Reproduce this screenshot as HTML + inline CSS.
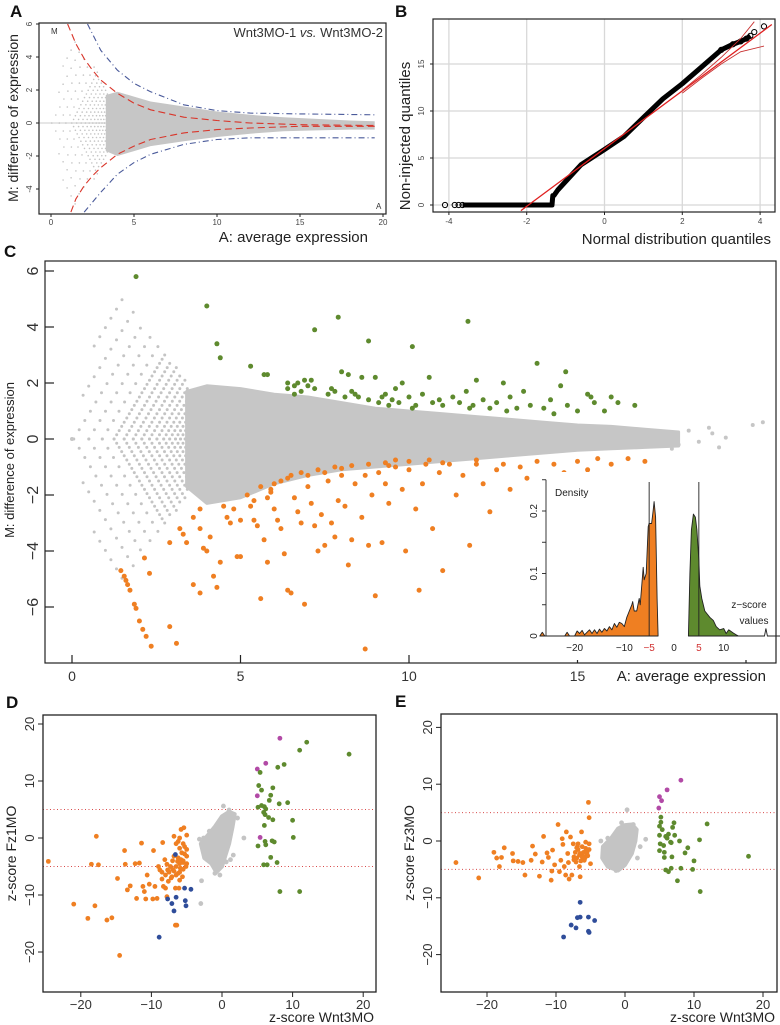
<!DOCTYPE html>
<html><head><meta charset="utf-8"><style>
html,body{margin:0;padding:0;background:#fff;}
svg{display:block;font-family:"Liberation Sans",Arial,sans-serif;}
</style></head><body>
<svg id="fig" width="780" height="1025" viewBox="0 0 780 1025" xmlns="http://www.w3.org/2000/svg"></svg>
<script>
// ===== Panel A data =====
const aCloudA = [3.3,4,5,6,8,10,12,14,16,18,19.5];
const aCloudUp = [1.7,1.9,1.6,1.3,1.0,0.7,0.5,0.35,0.25,0.15,0.1];
const aCloudLo = [-1.7,-2.0,-1.7,-1.4,-1.1,-0.85,-0.65,-0.5,-0.45,-0.4,-0.4];
const aRedUpA = [1,1.5,2,2.5,3,4,5,6,8,10,12,15,19.5];
const aRedUpM = [6,4.8,3.9,3.2,2.6,1.8,1.2,0.8,0.35,0.15,0.0,-0.1,-0.15];
const aRedLoA = [1.2,1.5,2,2.5,3,4,5,6,8,10,12,15,19.5];
const aRedLoM = [-5.4,-4.6,-3.8,-3.2,-2.7,-1.9,-1.4,-1.0,-0.6,-0.4,-0.3,-0.2,-0.2];
const aBlueUpA = [2.2,3,4,5,6,8,10,12,15,19.5];
const aBlueUpM = [6,4.4,3.2,2.4,1.9,1.1,0.75,0.6,0.55,0.5];
const aBlueLoA = [2,3,4,5,6,8,10,12,15,19.5];
const aBlueLoM = [-5.4,-4.2,-3.1,-2.4,-1.9,-1.3,-1.0,-0.9,-0.9,-0.9];
const aXTicks = [0,5,10,15,20];
const aYTicks = [-4,-2,0,2,4,6];
// low-count stripe offsets (A where each stripe crosses M=0)
const stripeOffsets = [-1.0,-0.45,0.05,0.5,0.9,1.25,1.55,1.82,2.07,2.3,2.52,2.72,2.9,3.07,3.22,3.36];
// ===== Panel B data =====
const bQX = [-4.1,-3.85,-3.75,-3.65,-3.5,-3,-2.5,-2,-1.6,-1.35,-1.33,-1.3,-1.2,-1.0,-0.6,0,0.5,1,1.5,2,2.5,3,3.3,3.5,3.65,3.75,3.85,4.1];
const bQY = [0,0,0,0,0,0,0,0,0,0,1,1,1.6,2.5,4.3,5.9,7.3,9.3,11.3,12.9,14.7,16.5,17.1,17.4,17.7,18,18.4,19];
const bRefX = [-2.15,4.3];
const bRefY = [-0.6,19.2];
const bEnvUpX = [2,2.5,3,3.5,3.85];
const bEnvUpY = [12.2,13.9,15.7,17.7,19.5];
const bEnvLoX = [2,2.5,3,3.5,4.1];
const bEnvLoY = [11.9,13.5,15.0,16.3,16.9];
const bXTicks = [-4,-2,0,2,4];
const bYTicks = [0,5,10,15];
// ===== Panel C data =====
const cCloudA = [3.4,4,5,6,7,8,9,10,11,12,13,14,15,16,17,18];
const cCloudUp = [1.7,1.9,1.8,1.6,1.5,1.3,1.1,1.0,0.9,0.8,0.7,0.6,0.5,0.45,0.35,0.25];
const cCloudLo = [-1.7,-2.3,-2.1,-1.6,-1.3,-1.1,-1.0,-0.9,-0.8,-0.7,-0.6,-0.5,-0.4,-0.35,-0.3,-0.25];
const cGrayExtraA = [0,17.5,18,18.3,18.6,19,19.2,19.4,20.2,20.5,17.8,18.9];
const cGrayExtraM = [0,0.1,-0.2,0.3,-0.1,0.2,-0.3,0.05,0.5,0.6,-0.35,0.4];
const cOrangeA = [1.45,1.55,1.6,1.65,1.72,1.85,1.9,2.0,2.1,2.2,2.35,2.15,2.3,2.9,3.1,2.9,3.2,3.3,3.4,3.6,3.6,3.8,3.8,3.8,3.9,4.0,4.1,4.2,4.3,4.4,4.5,4.6,4.7,4.8,4.9,5.0,5.0,5.2,5.3,5.4,5.5,5.6,5.7,5.8,5.9,6.0,6.1,6.2,6.3,6.4,6.5,6.6,6.7,6.8,6.9,7.0,7.1,7.2,7.3,7.4,7.5,7.6,7.7,7.8,7.9,8.0,8.1,8.2,8.3,8.4,8.6,8.7,8.8,8.9,9.0,9.1,9.2,9.3,9.4,9.6,9.8,9.9,10.0,10.2,10.3,10.4,10.5,10.7,10.9,11.0,11.2,11.4,11.6,11.8,12.0,12.2,12.4,12.6,12.8,13.0,13.3,13.5,13.8,14.0,14.3,14.6,15.0,15.3,15.6,16.0,16.5,17.0,8.7,9.4,6.2,6.8,7.3,7.8,8.3,8.8,9.3,6.5,7.5,8.0,5.6,5.8,6.0,10.0,11.0,12.0,9.6,10.6,5.4,5.9,6.4,7.0];
const cOrangeM = [-4.7,-4.9,-5.05,-5.2,-5.4,-5.9,-6.05,-6.5,-6.8,-7.05,-7.4,-4.25,-4.8,-6.7,-7.3,-3.7,-3.2,-3.4,-3.7,-2.8,-5.2,-5.5,-2.5,-3.2,-3.9,-4.0,-3.5,-4.9,-5.3,-4.4,-2.4,-2.8,-3.0,-2.5,-4.2,-2.9,-4.2,-2.0,-2.4,-2.9,-3.1,-5.7,-3.6,-4.4,-1.9,-2.5,-2.9,-3.2,-4.1,-5.4,-5.5,-2.1,-2.6,-3.0,-5.9,-1.7,-2.3,-3.1,-4.0,-2.7,-3.8,-1.5,-3.0,-3.5,-2.2,-1.3,-2.4,-4.5,-3.6,-1.6,-2.8,-1.3,-3.8,-2.0,-5.6,-1.2,-3.7,-1.6,-2.3,-1.0,-1.8,-4.0,-1.1,-2.5,-5.4,-1.6,-0.9,-3.2,-1.2,-4.7,-0.9,-2.0,-1.3,-3.8,-0.9,-1.6,-2.6,-1.1,-0.9,-1.8,-1.0,-1.4,-0.8,-1.9,-0.9,-1.2,-0.8,-1.1,-0.7,-0.9,-0.7,-0.8,-7.5,-0.95,-1.5,-1.2,-1.1,-1.0,-0.95,-0.9,-0.85,-1.3,-1.2,-1.05,-1.7,-2.1,-1.6,-0.8,-0.85,-0.75,-0.75,-0.75,-2.2,-1.8,-1.4,-1.3];
const cGreenA = [1.9,4.0,4.3,4.4,5.3,5.7,5.8,6.4,6.4,6.6,6.7,6.8,6.9,7.0,7.1,7.2,7.6,7.7,7.8,7.9,8.0,8.1,8.2,8.3,8.4,8.5,8.6,8.8,8.8,9.0,9.1,9.2,9.3,9.5,9.6,9.7,9.8,10.0,10.1,10.2,10.4,10.6,10.7,10.9,11.0,11.3,11.5,11.7,11.75,11.9,12.0,12.2,12.4,12.6,12.8,13.0,13.2,13.4,13.8,14.0,14.2,14.5,14.65,14.7,15.0,15.3,15.4,15.5,15.8,16.0,16.2,16.7,6.6,7.2,9.4,10.1,11.8,12.9,14.3,13.6];
const cGreenM = [5.8,4.75,3.4,2.9,2.6,2.3,2.3,2.0,1.8,1.9,2.0,1.7,2.1,1.9,2.1,3.9,1.6,1.8,1.7,4.35,2.4,1.5,2.3,1.7,1.6,1.5,2.2,1.4,3.5,2.2,1.3,1.5,1.6,1.4,1.8,1.3,2.0,1.5,3.3,1.2,1.6,2.2,1.3,1.4,1.2,1.5,1.3,1.7,4.2,1.2,2.1,1.4,1.1,1.3,2.0,1.5,1.1,1.7,2.7,1.1,1.4,1.9,2.4,1.2,1.0,1.6,1.5,1.3,1.0,1.5,1.3,1.2,1.6,1.8,1.2,1.1,1.1,1.0,0.9,1.2];
const cXTicks = [0,5,10,15,20];
const cXLabels = ["0","5","10","15",""];
const cYTicks = [-6,-4,-2,0,2,4,6];
// ===== Inset density data =====
const dOrangeZ = [-27,-26.5,-26,-25.5,-22,-21.5,-21,-20,-19.5,-19,-18.5,-18,-17,-16.5,-16,-15.5,-15,-14.5,-14,-13.5,-13,-12.5,-12,-11.5,-11,-10.5,-10,-9.5,-9,-8.5,-8.3,-8,-7.5,-7,-6.8,-6.5,-6.2,-6,-5.6,-5.2,-5,-4.5,-4.2,-4.0,-3.7,-3.4,-3.2];
const dOrangeD = [0,0.006,0,0,0,0.006,0,0,0.008,0.004,0.009,0.002,0.01,0.004,0.01,0.004,0.011,0.006,0.012,0.008,0.015,0.01,0.02,0.014,0.022,0.02,0.015,0.03,0.04,0.05,0.055,0.04,0.04,0.06,0.05,0.08,0.11,0.09,0.1,0.175,0.18,0.18,0.2,0.215,0.19,0.06,0];
const dGreenZ = [2.9,3.2,3.5,3.9,4.3,4.6,5.0,5.2,5.6,6.2,6.7,7.2,7.9,8.5,9.2,10,10.5,11,11.9,12.5,13];
const dGreenD = [0,0.1,0.17,0.195,0.19,0.17,0.12,0.08,0.06,0.04,0.035,0.03,0.025,0.015,0.01,0.012,0.004,0.01,0.005,0.002,0];
const dTailZ = [13,18.2,18.5,18.8,19.1,27];
const dTailD = [0,0,0.012,0,0,0];
const dXTicks = [-20,-10,-5,0,5,10];
const dYTicks = [0,0.1,0.2];
// ===== Panel D data =====
const dzOrangeX = [-24.6,-21,-19,-18.5,-18,-17.8,-17.5,-16.3,-15.6,-14.8,-14.5,-13.8,-13.7,-13,-13.4,-12.3,-12.1,-11.7,-11.4,-11.2,-11,-10.8,-10.6,-10.3,-9.7,-9.5,-9.8,-9.2,-8.8,-8.5,-8.4,-8.3,-8.1,-8.0,-7.7,-7.6,-7.3,-7.1,-6.8,-6.8,-6.6,-6.4,-6.3,-6.2,-6.2,-6.0,-6.0,-5.9,-5.8,-5.7,-5.6,-5.5,-5.4,-5.3,-5.1,-5.0,-6.6,-6.1,-7.8,-7.5,-7,-6.5,-6,-5.5,-7,-6.5,-6,-5.5,-5,-5,-5.5,-6,-6.5,-5,-7.2,-8.5,-9,-7.8,-8,-6.8,-6.2,-5.8,-5.3];
const dzOrangeY = [-4.1,-11.6,-14.1,-4.6,-11.9,0.3,-4.7,-14.4,-14.0,-7.1,-20.6,-2.2,-4.6,-8.4,-9.1,-4.5,-10.6,-4.4,-0.9,-8.5,-9.4,-10.7,-6.5,-8.1,-2.2,-8.5,-10.7,-10.6,-5.6,-7.2,-0.8,-8.5,-3.8,-8.8,-5.6,-7.6,-5.0,-6.8,0.3,-3.2,-15.3,-15.3,-4.1,-0.6,-6.2,-7.4,-1.8,-5.3,1.5,-2.6,-6.8,-4.3,1.8,-1.5,-5.0,-3.2,-8.8,-8.8,-10.3,-6,-5.5,-5,-4.5,-4,-4,-6.5,-6,-5.5,-4.5,-2,-1,0,-1,0.5,-7,-6,-5,-4.6,-6.5,-5.8,-3.5,-3.8,-2.8];
const dzBlueX = [-6.6,-7.7,-7.1,-6.8,-6.5,-5.3,-5.2,-5.1,-4.4,-8.9];
const dzBlueY = [-2.9,-10.7,-11.5,-12.8,-10.4,-8.8,-11.0,-11.9,-9.0,-17.4];
const dzMagX = [8.2,6.2,5.0,5.0,5.4];
const dzMagY = [17.5,13.1,12.1,7.4,0.1];
const dzGreenX = [18.0,12,11,8.8,7.9,5.4,5.2,5.6,7.2,6.9,6.7,8.1,9.3,5.1,5.6,6.0,6.2,5.9,6.1,6.6,7.2,10,6.0,10.1,5.1,6.1,6.2,7.1,7.4,6.9,5.9,6.4,7.8,8.2,11];
const dzGreenY = [14.7,16.8,15.4,12.9,12.4,11.5,9.2,8.4,8.8,7.5,6.6,6.0,6.2,5.4,5.7,5.5,5.1,4.5,4.1,3.6,3.2,3.1,2.2,0.1,-1.4,-0.6,-1.2,-0.5,-0.7,-3.4,-4.7,-4.7,-4.3,-9.4,-9.4];
const dzGrayPolyX = [-3,-2,-1,0,1,1.8,1.5,1,0.5,0,-0.8,-1.5,-2.5];
const dzGrayPolyY = [-1,0.5,2,3.8,4.6,4.2,2,-1,-3,-5,-6,-4.5,-3.5];
const dzGrayX = [3.1,-2.9,-3,-3.2,0.2,1.0,-1.0,1.6,-2.2,-2.6,-1.8,2.2,1.2,-0.3,0.6];
const dzGrayY = [0,-7.5,-11.5,-0.2,5.6,4.9,-6.2,-3,-2.5,0,1.2,3.5,-3.8,-6.5,-4.2];
// ===== Panel E data =====
const eOrangeX = [-24.5,-21.2,-19.0,-18.6,-18.2,-17.9,-17.5,-16.3,-16.2,-15.5,-14.8,-14.5,-13.6,-13.4,-13,-12.4,-12,-11.8,-11.3,-11.1,-10.7,-10.6,-10.5,-10.2,-9.7,-9.5,-9.3,-9.1,-9.0,-8.8,-8.6,-8.5,-8.3,-8.2,-8.1,-7.9,-7.7,-7.5,-7.4,-7.1,-6.9,-6.6,-6.5,-6.3,-6.2,-5.9,-5.7,-5.3,-5.2,-5.0,-5.2,-7.2,-7,-6.8,-6.6,-6.4,-6.2,-6,-5.8,-5.6,-5.4,-7,-6.5,-6,-5.5,-5.2,-6.8,-6.2,-5.7,-7.4,-6.0,-5.5];
const eOrangeY = [-3.8,-6.5,-2.0,-3.0,-4.5,-2.9,-1.2,-2.2,-3.5,-3.6,-3.8,-6.0,-3.4,-0.9,-2.3,-6.2,-3.7,0.8,-2.1,-2.9,-6.9,-5.3,-1.6,-4.2,2.9,-5.4,-3.4,0.4,-0.6,-4.5,-6.0,1.6,-2.2,-3.8,-6.7,0.7,-6.0,-0.5,-2.8,-3.7,-1.0,-4.5,-6.3,1.6,-2.2,-3.4,-1.3,6.8,4.1,-4.0,-0.5,-2,-3,-1.5,-2.5,-3.5,-1,-2,-3,-1.8,-2.6,-1.2,-2.2,-3.2,-2.4,-1.5,-0.5,-2.8,-0.2,-3.3,-2.8,-2.0];
const eBlueX = [-6.5,-6.9,-6.5,-7.8,-7.1,-5.3,-4.4,-5.3,-5.2,-8.9];
const eBlueY = [-10.8,-13.5,-13.4,-14.8,-15.3,-13.4,-14.0,-15.9,-16.1,-16.9];
const eMagX = [8.1,6.1,5.0,5.3,4.9];
const eMagY = [10.7,9.0,7.8,7.1,5.8];
const eGreenX = [17.9,11.9,10.8,10.9,10,9.8,9.1,8.1,7.9,7.6,8.7,7.1,6.9,7.2,6.7,6.3,6.1,5.9,6.8,6.7,6.3,5.9,5.7,5.4,5.2,5.2,5.0,5.0,5.1,5.0,5.7,5.6,6.6];
const eGreenY = [-2.7,3.0,0.2,-8.9,-3.5,-5.0,-1.2,-4.8,0,-7.0,-2.1,3.2,2.4,1.0,-0.3,1.2,0.5,0.8,-2.8,-4.8,-5.4,-5.1,-2.0,2.0,4.2,3.3,2.6,1.0,-0.5,-1.7,-2.9,-0.8,-0.2];
const eGrayPolyX = [-3.2,-2,-1,0,1,1.7,1.5,1,0,-1,-2.5,-3.3];
const eGrayPolyY = [-1,0.5,2.2,2.8,2.9,2,0,-2.2,-4.2,-5.2,-4.5,-3];
const eGrayX = [0.3,3,-3.5,1.2,-1.3,-2.5,2.2,-0.5,1.8];
const eGrayY = [5.5,0.3,0,2.9,-5.2,0.5,-1,3.2,-3];
const zXTicks = [-20,-10,0,10,20];
const zYTicks = [-20,-10,0,10,20];

// ===== helpers =====
const NS = 'http://www.w3.org/2000/svg';
const svg = document.getElementById('fig');
function mk(tag, attrs, parent){
  const e = document.createElementNS(NS, tag);
  for (const k in attrs) e.setAttribute(k, attrs[k]);
  (parent||svg).appendChild(e);
  return e;
}
function txt(x,y,s,size,opts,parent){
  const o = Object.assign({x:x,y:y,'font-size':size,fill:'#222'}, opts||{});
  const t = mk('text', o, parent);
  t.textContent = s;
  return t;
}
function group(name){
  const g = mk('g', {});
  
  
  return g;
}
function clip(id,x,y,w,h){
  const c = mk('clipPath',{id:id});
  mk('rect',{x:x,y:y,width:w,height:h},c);
}
function poly(xs, ys, sx, sy){ return xs.map((v,i)=>sx(v).toFixed(1)+','+sy(ys[i]).toFixed(1)).join(' '); }
// low-count stripes: M = ±2(A - c), inside diamond region
function inRegion(a, m){
  const am = Math.abs(m);
  return a <= 3.55 && am <= 5*a + 0.05 && am <= 5.2 - 1.78*(a-1.63) && am >= 0;
}
function drawStripes(parent, sx, sy, r, step){
  stripeOffsets.forEach(c=>{
    [1,-1].forEach(s=>{
      // outer stripes are sparser than inner ones
      const st = c < 1.0 ? step*2.2 : step;
      for (let a = Math.max(c,0); a <= 3.6; a += st) {
        const m = s*2*(a - c);
        if (!inRegion(a, m)) continue;
        const d = mk('circle',{cx:sx(a).toFixed(1),cy:sy(m).toFixed(1),r:r,fill:'#c4c4c4'},parent);
        
        
      }
    });
  });
}

// ===== Panel A =====
{
  const sx = a=>51+a*16.6, sy = m=>123-m*16.5;
  clip('clipA',39,23,347,191);
  const g = group('panel-a');
  const pg = mk('g',{'clip-path':'url(#clipA)'},g);
  mk('line',{x1:sx(-1),y1:sy(0),x2:sx(3.6),y2:sy(0),stroke:'#ccc','stroke-width':1},pg);
  drawStripes(pg, sx, sy, 0.8, 0.11);
  const cl = mk('polygon',{points:poly(aCloudA.concat(aCloudA.slice().reverse()), aCloudUp.concat(aCloudLo.slice().reverse()), sx, sy), fill:'#c6c6c6'},pg);
  
  
  const curves = [[aRedUpA,aRedUpM,'#d9352a','7 4'],[aRedLoA,aRedLoM,'#d9352a','7 4'],[aBlueUpA,aBlueUpM,'#4a5a9a','6 3 1 3'],[aBlueLoA,aBlueLoM,'#4a5a9a','6 3 1 3']];
  curves.forEach(c=>{
    const p = mk('polyline',{points:poly(c[0],c[1],sx,sy),fill:'none',stroke:c[2],'stroke-width':1.1,'stroke-dasharray':c[3]},pg);
    
    
  });
  mk('rect',{x:39,y:23,width:347,height:191,fill:'none',stroke:'#222','stroke-width':1.2},g);
  aXTicks.forEach(v=>{ mk('line',{x1:sx(v),y1:214,x2:sx(v),y2:217,stroke:'#222'},g); txt(sx(v),225,String(v),8,{'text-anchor':'middle',fill:'#444'},g); });
  aYTicks.forEach(v=>{ mk('line',{x1:36,y1:sy(v),x2:39,y2:sy(v),stroke:'#222'},g); txt(32,sy(v),String(v),8,{'text-anchor':'middle',fill:'#444',transform:`rotate(-90 32 ${sy(v)})`},g); });
  txt(10,17,'A',17,{'font-weight':'bold',fill:'#111'},g);
  const t = txt(383,37,'',13,{'text-anchor':'end',fill:'#333'},g);
  t.innerHTML = 'Wnt3MO-1 <tspan font-style="italic">vs.</tspan> Wnt3MO-2';
  
  
  txt(51,34,'M',8,{fill:'#333'},g);
  txt(376,209,'A',8,{fill:'#333'},g);
  const yl = txt(18,118,'M: difference of expression',14,{'text-anchor':'middle',fill:'#222',transform:'rotate(-90 18 118)'},g);
  
  
  const xl = txt(368,242,'A: average expression',15,{'text-anchor':'end'},g);
  
  
}

// ===== Panel B =====
{
  const sx = x=>604.5+x*38.9, sy = y=>205-y*9.4;
  clip('clipB',433,19,342,193);
  const g = group('panel-b');
  bXTicks.forEach(v=>mk('line',{x1:sx(v),y1:19,x2:sx(v),y2:212,stroke:'#d8d8d8','stroke-width':1.3},g));
  bYTicks.forEach(v=>mk('line',{x1:433,y1:sy(v),x2:775,y2:sy(v),stroke:'#d8d8d8','stroke-width':1.3},g));
  const pg = mk('g',{'clip-path':'url(#clipB)'},g);
  const ql = mk('polyline',{points:poly(bQX.slice(3,26),bQY.slice(3,26),sx,sy),fill:'none',stroke:'#000','stroke-width':5,'stroke-linejoin':'round'},pg);
  
  
  bQX.forEach((x,i)=>{
    if (i<4 || i>=21) {
      const c = mk('circle',{cx:sx(x),cy:sy(bQY[i]),r:2.6,fill:'none',stroke:'#000','stroke-width':1},pg);
      
      
    }
  });
  const rl = mk('polyline',{points:poly(bRefX,bRefY,sx,sy),fill:'none',stroke:'#e02020','stroke-width':1.3},pg);
  
  
  mk('polyline',{points:poly(bEnvUpX,bEnvUpY,sx,sy),fill:'none',stroke:'#c83030','stroke-width':0.9},pg);
  mk('polyline',{points:poly(bEnvLoX,bEnvLoY,sx,sy),fill:'none',stroke:'#c83030','stroke-width':0.9},pg);
  mk('rect',{x:433,y:19,width:342,height:193,fill:'none',stroke:'#222','stroke-width':1.2},g);
  bXTicks.forEach(v=>{ mk('line',{x1:sx(v),y1:212,x2:sx(v),y2:215,stroke:'#222'},g); txt(sx(v),224,String(v),8,{'text-anchor':'middle',fill:'#444'},g); });
  bYTicks.forEach(v=>{ mk('line',{x1:430,y1:sy(v),x2:433,y2:sy(v),stroke:'#222'},g); txt(424,sy(v),String(v),8,{'text-anchor':'middle',fill:'#444',transform:`rotate(-90 424 ${sy(v)})`},g); });
  txt(395,17,'B',17,{'font-weight':'bold',fill:'#111'},g);
  const yl = txt(410,136,'Non-injected  quantiles',15,{'text-anchor':'middle',transform:'rotate(-90 410 136)','xml:space':'preserve'},g);
  
  
  const xl = txt(771,244,'Normal distribution quantiles',15,{'text-anchor':'end'},g);
  
  
}

// ===== Panel C =====
{
  const sx = a=>72+a*33.7, sy = m=>439-m*28;
  clip('clipC',45,261,731,402);
  const g = group('panel-c');
  const pg = mk('g',{'clip-path':'url(#clipC)'},g);
  drawStripes(pg, sx, sy, 1.5, 0.075);
  const cl = mk('polygon',{points:poly(cCloudA.concat(cCloudA.slice().reverse()), cCloudUp.concat(cCloudLo.slice().reverse()), sx, sy), fill:'#c6c6c6','stroke':'#c6c6c6','stroke-width':3,'stroke-linejoin':'round'},pg);
  
  
  cGrayExtraA.forEach((a,i)=>{
    const c = mk('circle',{cx:sx(a),cy:sy(cGrayExtraM[i]),r:2,fill:'#c6c6c6'},pg);
    
    
  });
  cOrangeA.forEach((a,i)=>{
    const c = mk('circle',{cx:sx(a),cy:sy(cOrangeM[i]),r:2.5,fill:'#ef7f22'},pg);
    
    
  });
  cGreenA.forEach((a,i)=>{
    const c = mk('circle',{cx:sx(a),cy:sy(cGreenM[i]),r:2.5,fill:'#5e8a2e'},pg);
    
    
  });
  mk('rect',{x:45,y:261,width:731,height:402,fill:'none',stroke:'#222','stroke-width':1.2},g);
  cXTicks.forEach((v,i)=>{ mk('line',{x1:sx(v),y1:663,x2:sx(v),y2:655,stroke:'#222','stroke-width':1.2},g); txt(sx(v),681,cXLabels[i],14,{'text-anchor':'middle',fill:'#333'},g); });
  cYTicks.forEach(v=>{ mk('line',{x1:45,y1:sy(v),x2:54,y2:sy(v),stroke:'#222','stroke-width':1.2},g); txt(38,sy(v),String(v).replace('-','\u2212'),16,{'text-anchor':'middle',fill:'#333',transform:`rotate(-90 38 ${sy(v)})`},g); });
  txt(4,257,'C',17,{'font-weight':'bold',fill:'#111'},g);
  const yl = txt(14,460,'M: difference of expression',13,{'text-anchor':'middle',transform:'rotate(-90 14 460)'},g);
  
  
  const xl = txt(766,681,'A: average expression',15,{'text-anchor':'end'},g);
  
  

  // inset
  const ix = z=>674+z*4.97, iy = d=>636-d*625;
  const ig = group('density-inset');
  mk('rect',{x:530,y:472,width:245,height:188,fill:'#fff'},ig);
  const of = mk('polygon',{points:poly(dOrangeZ.concat([-3.2,-27]),dOrangeD.concat([0,0]),ix,iy),fill:'#ef7f22',stroke:'#222','stroke-width':0.9,'stroke-linejoin':'round'},ig);
  
  
  const gf = mk('polygon',{points:poly(dGreenZ,dGreenD,ix,iy),fill:'#5e8a2e',stroke:'#222','stroke-width':0.9,'stroke-linejoin':'round'},ig);
  
  
  mk('polyline',{points:poly(dTailZ,dTailD,ix,iy),fill:'none',stroke:'#222','stroke-width':0.9},ig);
  mk('line',{x1:ix(-5),y1:iy(0),x2:ix(-5),y2:482,stroke:'#222','stroke-width':0.9},ig);
  mk('line',{x1:ix(5),y1:iy(0),x2:ix(5),y2:482,stroke:'#222','stroke-width':0.9},ig);
  mk('line',{x1:546,y1:iy(0),x2:546,y2:iy(0.25),stroke:'#222','stroke-width':0.9},ig);
  [0,0.05,0.1,0.15,0.2,0.25].forEach(v=>mk('line',{x1:542,y1:iy(v),x2:546,y2:iy(v),stroke:'#222','stroke-width':0.9},ig));
  dYTicks.forEach(v=>txt(537,iy(v),String(v),10,{'text-anchor':'middle',fill:'#222',transform:`rotate(-90 537 ${iy(v)})`},ig));
  dXTicks.forEach(v=>txt(ix(v),651,String(v).replace('-','\u2212'),10,{'text-anchor':'middle',fill:(Math.abs(v)===5?'#d03030':'#222')},ig));
  txt(555,496,'Density',10,{fill:'#222'},ig);
  txt(749,608,'z\u2212score',10,{'text-anchor':'middle'},ig);
  txt(754,624,'values',10,{'text-anchor':'middle'},ig);
}

// ===== Panels D & E =====
function zPanel(name, letter, lx, bx, by, bw, bh, x0, xs, y0, ys, ylab, data){
  const sx = x=>x0+x*xs, sy = y=>y0-y*ys;
  const g = group(name);
  clip('clip'+letter,bx,by,bw,bh);
  const pg = mk('g',{'clip-path':'url(#clip'+letter+')'},g);
  [5,-5].forEach(v=>mk('line',{x1:bx,y1:sy(v),x2:bx+bw,y2:sy(v),stroke:'#d84a4a','stroke-width':1,'stroke-dasharray':'1 2.5'},pg));
  const gp = mk('polygon',{points:poly(data.gpx,data.gpy,sx,sy),fill:'#c4c4c4',stroke:'#c4c4c4','stroke-width':4,'stroke-linejoin':'round'},pg);
  
  
  const sets = [[data.gx,data.gy,'#c4c4c4','gray-point'],[data.ox,data.oy,'#ef7f22','orange-point'],[data.bx,data.by,'#2f4d9a','blue-point'],[data.mx,data.my,'#b24aa6','magenta-point'],[data.grx,data.gry,'#5e8a2e','green-point']];
  sets.forEach(s=>{
    s[0].forEach((x,i)=>{
      const c = mk('circle',{cx:sx(x),cy:sy(s[1][i]),r:2.4,fill:s[2]},pg);
      
      
    });
  });
  mk('rect',{x:bx,y:by,width:bw,height:bh,fill:'none',stroke:'#222','stroke-width':1.3},g);
  zXTicks.forEach(v=>{ mk('line',{x1:sx(v),y1:by+bh,x2:sx(v),y2:by+bh+5,stroke:'#222'},g); txt(sx(v),by+bh+17,String(v).replace('-','\u2212'),13,{'text-anchor':'middle',fill:'#333'},g); });
  zYTicks.forEach(v=>{ mk('line',{x1:bx-5,y1:sy(v),x2:bx,y2:sy(v),stroke:'#222'},g); txt(bx-9,sy(v),String(v).replace('-','\u2212'),13,{'text-anchor':'middle',fill:'#333',transform:`rotate(-90 ${bx-9} ${sy(v)})`},g); });
  txt(lx, by-7, letter,17,{'font-weight':'bold',fill:'#111'},g);
  const yl = txt(bx-27,by+bh/2,ylab,14,{'text-anchor':'middle',transform:`rotate(-90 ${bx-27} ${by+bh/2})`},g);
  
  
  const xl = txt(bx+bw-2,by+bh+30,'z-score Wnt3MO',14,{'text-anchor':'end'},g);
  
  
}
zPanel('panel-d','D',6,43,715,333,277,222,7.06,838,5.7,'z-score Fz1MO',
  {gpx:dzGrayPolyX,gpy:dzGrayPolyY,gx:dzGrayX,gy:dzGrayY,ox:dzOrangeX,oy:dzOrangeY,bx:dzBlueX,by:dzBlueY,mx:dzMagX,my:dzMagY,grx:dzGreenX,gry:dzGreenY});
zPanel('panel-e','E',395,441,714,336,278,625,6.9,841,5.68,'z-score Fz3MO',
  {gpx:eGrayPolyX,gpy:eGrayPolyY,gx:eGrayX,gy:eGrayY,ox:eOrangeX,oy:eOrangeY,bx:eBlueX,by:eBlueY,mx:eMagX,my:eMagY,grx:eGreenX,gry:eGreenY});
</script>
</body></html>
